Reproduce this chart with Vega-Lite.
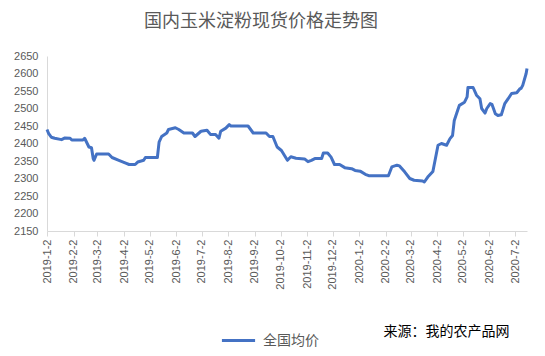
{
  "$schema": "https://vega.github.io/schema/vega-lite/v6.json",
  "autosize": "none",
  "width": 480,
  "height": 175,
  "padding": {"left": 47, "top": 56, "right": 18, "bottom": 125},
  "background": "white",
  "title": {
    "text": "国内玉米淀粉现货价格走势图",
    "font": "Noto Sans CJK SC",
    "fontSize": 18,
    "fontWeight": "normal",
    "color": "#595959",
    "anchor": "middle",
    "dx": -26,
    "offset": 19
  },
  "data": {
    "values": [
      {"date": "2019-01-02", "price": 2440},
      {"date": "2019-01-04", "price": 2428},
      {"date": "2019-01-07", "price": 2418},
      {"date": "2019-01-11", "price": 2415},
      {"date": "2019-01-19", "price": 2411},
      {"date": "2019-01-23", "price": 2416},
      {"date": "2019-01-29", "price": 2415},
      {"date": "2019-01-31", "price": 2410},
      {"date": "2019-02-13", "price": 2410},
      {"date": "2019-02-15", "price": 2415},
      {"date": "2019-02-18", "price": 2400},
      {"date": "2019-02-20", "price": 2390},
      {"date": "2019-02-23", "price": 2388},
      {"date": "2019-02-25", "price": 2357},
      {"date": "2019-02-26", "price": 2352},
      {"date": "2019-03-01", "price": 2370},
      {"date": "2019-03-15", "price": 2370},
      {"date": "2019-03-19", "price": 2360},
      {"date": "2019-03-27", "price": 2352},
      {"date": "2019-04-04", "price": 2344},
      {"date": "2019-04-08", "price": 2340},
      {"date": "2019-04-15", "price": 2340},
      {"date": "2019-04-18", "price": 2347},
      {"date": "2019-04-25", "price": 2352},
      {"date": "2019-04-27", "price": 2360},
      {"date": "2019-05-11", "price": 2360},
      {"date": "2019-05-13", "price": 2404},
      {"date": "2019-05-16", "price": 2420},
      {"date": "2019-05-22", "price": 2430},
      {"date": "2019-05-24", "price": 2440},
      {"date": "2019-06-01", "price": 2445},
      {"date": "2019-06-05", "price": 2440},
      {"date": "2019-06-11", "price": 2430},
      {"date": "2019-06-21", "price": 2430},
      {"date": "2019-06-24", "price": 2420},
      {"date": "2019-07-01", "price": 2435},
      {"date": "2019-07-08", "price": 2438},
      {"date": "2019-07-12", "price": 2426},
      {"date": "2019-07-18", "price": 2426},
      {"date": "2019-07-22", "price": 2415},
      {"date": "2019-07-24", "price": 2435},
      {"date": "2019-07-30", "price": 2444},
      {"date": "2019-08-03", "price": 2454},
      {"date": "2019-08-05", "price": 2450},
      {"date": "2019-08-25", "price": 2450},
      {"date": "2019-08-31", "price": 2430},
      {"date": "2019-09-15", "price": 2430},
      {"date": "2019-09-19", "price": 2420},
      {"date": "2019-09-23", "price": 2420},
      {"date": "2019-09-28", "price": 2390},
      {"date": "2019-10-03", "price": 2380},
      {"date": "2019-10-10", "price": 2352},
      {"date": "2019-10-14", "price": 2362},
      {"date": "2019-10-20", "price": 2358},
      {"date": "2019-10-30", "price": 2356},
      {"date": "2019-11-03", "price": 2348},
      {"date": "2019-11-07", "price": 2352},
      {"date": "2019-11-11", "price": 2357},
      {"date": "2019-11-19", "price": 2357},
      {"date": "2019-11-21", "price": 2373},
      {"date": "2019-11-26", "price": 2373},
      {"date": "2019-11-30", "price": 2361},
      {"date": "2019-12-04", "price": 2340},
      {"date": "2019-12-10", "price": 2340},
      {"date": "2019-12-16", "price": 2331},
      {"date": "2019-12-24", "price": 2328},
      {"date": "2019-12-28", "price": 2323},
      {"date": "2020-01-03", "price": 2321},
      {"date": "2020-01-09", "price": 2312},
      {"date": "2020-01-13", "price": 2308},
      {"date": "2020-02-05", "price": 2308},
      {"date": "2020-02-09", "price": 2333},
      {"date": "2020-02-15", "price": 2338},
      {"date": "2020-02-18", "price": 2336},
      {"date": "2020-02-24", "price": 2319},
      {"date": "2020-03-01", "price": 2300},
      {"date": "2020-03-06", "price": 2295},
      {"date": "2020-03-16", "price": 2293},
      {"date": "2020-03-18", "price": 2290},
      {"date": "2020-03-22", "price": 2304},
      {"date": "2020-03-28", "price": 2320},
      {"date": "2020-04-01", "price": 2370},
      {"date": "2020-04-03", "price": 2395},
      {"date": "2020-04-07", "price": 2400},
      {"date": "2020-04-13", "price": 2395},
      {"date": "2020-04-17", "price": 2414},
      {"date": "2020-04-20", "price": 2423},
      {"date": "2020-04-22", "price": 2466},
      {"date": "2020-04-26", "price": 2495},
      {"date": "2020-04-28", "price": 2509},
      {"date": "2020-05-04", "price": 2518},
      {"date": "2020-05-07", "price": 2533},
      {"date": "2020-05-08", "price": 2560},
      {"date": "2020-05-14", "price": 2560},
      {"date": "2020-05-18", "price": 2538},
      {"date": "2020-05-22", "price": 2528},
      {"date": "2020-05-24", "price": 2500},
      {"date": "2020-05-28", "price": 2487},
      {"date": "2020-05-30", "price": 2500},
      {"date": "2020-06-03", "price": 2514},
      {"date": "2020-06-05", "price": 2512},
      {"date": "2020-06-09", "price": 2485},
      {"date": "2020-06-12", "price": 2480},
      {"date": "2020-06-16", "price": 2482},
      {"date": "2020-06-20", "price": 2514},
      {"date": "2020-06-24", "price": 2528},
      {"date": "2020-06-28", "price": 2543},
      {"date": "2020-07-04", "price": 2545},
      {"date": "2020-07-08", "price": 2557},
      {"date": "2020-07-09", "price": 2557},
      {"date": "2020-07-11", "price": 2566},
      {"date": "2020-07-15", "price": 2600},
      {"date": "2020-07-16", "price": 2614}
    ]
  },
  "mark": {"type": "line", "strokeWidth": 3, "interpolate": "linear", "strokeJoin": "round"},
  "encoding": {
    "x": {
      "field": "date",
      "type": "temporal",
      "scale": {
        "type": "utc",
        "domain": [
          {"year": 2019, "month": 1, "date": 2, "utc": true},
          {"year": 2020, "month": 7, "date": 16, "utc": true}
        ]
      },
      "axis": {
        "values": [
          {"year": 2019, "month": 1, "date": 2, "utc": true},
          {"year": 2019, "month": 2, "date": 2, "utc": true},
          {"year": 2019, "month": 3, "date": 2, "utc": true},
          {"year": 2019, "month": 4, "date": 2, "utc": true},
          {"year": 2019, "month": 5, "date": 2, "utc": true},
          {"year": 2019, "month": 6, "date": 2, "utc": true},
          {"year": 2019, "month": 7, "date": 2, "utc": true},
          {"year": 2019, "month": 8, "date": 2, "utc": true},
          {"year": 2019, "month": 9, "date": 2, "utc": true},
          {"year": 2019, "month": 10, "date": 2, "utc": true},
          {"year": 2019, "month": 11, "date": 2, "utc": true},
          {"year": 2019, "month": 12, "date": 2, "utc": true},
          {"year": 2020, "month": 1, "date": 2, "utc": true},
          {"year": 2020, "month": 2, "date": 2, "utc": true},
          {"year": 2020, "month": 3, "date": 2, "utc": true},
          {"year": 2020, "month": 4, "date": 2, "utc": true},
          {"year": 2020, "month": 5, "date": 2, "utc": true},
          {"year": 2020, "month": 6, "date": 2, "utc": true},
          {"year": 2020, "month": 7, "date": 2, "utc": true}
        ],
        "labelExpr": "utcFormat(datum.value, '%Y-%-m-%-d')",
        "labelAngle": 270,
        "labelFont": "Liberation Sans",
        "labelFontSize": 11,
        "labelColor": "#595959",
        "labelPadding": 3,
        "labelOverlap": false,
        "labelFlush": false,
        "tickSize": 5,
        "tickColor": "#d9d9d9",
        "domainColor": "#d9d9d9",
        "domainWidth": 1,
        "grid": false,
        "title": "来源：我的农产品网",
        "titleFont": "Noto Sans CJK SC",
        "titleFontSize": 14,
        "titleFontWeight": "normal",
        "titleColor": "#000000",
        "titleAngle": 0,
        "titleAlign": "center",
        "titleBaseline": "middle",
        "titleX": 399,
        "titleY": 100
      }
    },
    "y": {
      "field": "price",
      "type": "quantitative",
      "scale": {"domain": [2150, 2650], "nice": false, "zero": false},
      "axis": {
        "values": [2150, 2200, 2250, 2300, 2350, 2400, 2450, 2500, 2550, 2600, 2650],
        "format": "d",
        "labelFont": "Liberation Sans",
        "labelFontSize": 11,
        "labelColor": "#595959",
        "labelPadding": 9,
        "ticks": false,
        "domainColor": "#d9d9d9",
        "grid": false,
        "title": null
      }
    },
    "color": {
      "datum": "全国均价",
      "type": "nominal",
      "scale": {"range": ["#4472C4"]},
      "legend": {
        "orient": "none",
        "legendX": 173,
        "legendY": 266,
        "title": null,
        "symbolType": "stroke",
        "symbolSize": 1100,
        "symbolStrokeWidth": 3,
        "labelFont": "Noto Sans CJK SC",
        "labelFontSize": 14,
        "labelColor": "#595959",
        "labelOffset": 6
      }
    }
  },
  "config": {
    "view": {"stroke": null}
  }
}
